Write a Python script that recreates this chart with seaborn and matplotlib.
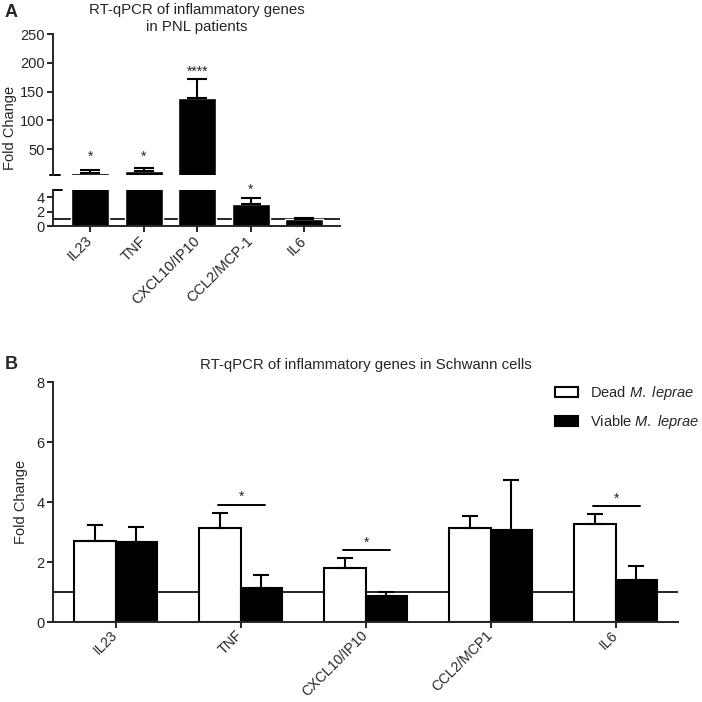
import numpy as np
import pandas as pd
import matplotlib
matplotlib.use('Agg')
import matplotlib.pyplot as plt
import seaborn as sns

# panel A : PNL patients
genes_a = ['IL23', 'TNF', 'CXCL10/IP10', 'CCL2/MCP-1', 'IL6']
fc_a = [8, 12, 138, 3.0, 0.95]
err_a = [5.5, 6, 34, 0.85, 0.2]
sig_a = ['*', '*', '****', '*', '']
star_y_a = [25, 25, 172, 4.0, None]

# panel B : Schwann cells
genes_b = ['IL23', 'TNF', 'CXCL10/IP10', 'CCL2/MCP1', 'IL6']
groups_b = ['Dead', 'Viable']
dead_fc = [2.7, 3.13, 1.8, 3.12, 3.28]
dead_err = [0.53, 0.51, 0.32, 0.4, 0.31]
viable_fc = [2.67, 1.14, 0.88, 3.08, 1.4]
viable_err = [0.49, 0.43, 0.13, 1.66, 0.47]
sig_b = ['', '*', '*', '', '*']

sns.set_style('ticks')
plt.rcParams['font.family'] = ['Liberation Sans', 'DejaVu Sans']
plt.rcParams['mathtext.fontset'] = 'custom'
plt.rcParams['mathtext.it'] = 'Liberation Sans:italic'
plt.rcParams['mathtext.rm'] = 'Liberation Sans'
plt.rcParams['axes.linewidth'] = 1.4
plt.rcParams['font.size'] = 10

fig = plt.figure(figsize=(7.02, 7.02), dpi=100)
W = 702.0

def px_axes(left, top, right, bottom):
    return fig.add_axes([left / W, 1 - bottom / W, (right - left) / W, (bottom - top) / W])

ax_top = px_axes(53, 34, 340, 175)
ax_bot = px_axes(53, 190, 340, 226)
ax_top.set_ylim(5, 250)
ax_bot.set_ylim(0, 5)

df_a = pd.DataFrame({'gene': genes_a, 'fc': fc_a})
for ax in (ax_top, ax_bot):
    sns.barplot(data=df_a, x='gene', y='fc', color='black', saturation=1,
                width=0.71, errorbar=None, ax=ax)
    lo = ax.get_ylim()[0]
    for bar, e in zip(ax.containers[0], err_a):
        if bar.get_height() <= lo:
            bar.set_visible(False)
            continue
        x = bar.get_x() + bar.get_width() / 2
        ax.errorbar(x, bar.get_height(), yerr=[[0], [e]], fmt='none', ecolor='black',
                    elinewidth=1.5, capsize=7, capthick=1.5)
    ax.set_xlim(-0.7, 4.67)
    ax.set_xlabel('')
    ax.set_ylabel('')
    ax.tick_params(direction='out', length=4, width=1.4, pad=2, labelsize=10.5)

ax_top.set_ylim(5, 250)
ax_top.set_yticks([50, 100, 150, 200, 250])
ax_top.spines[['top', 'right', 'bottom']].set_visible(False)
ax_top.tick_params(axis='x', bottom=False, labelbottom=False)
ax_top.plot([-0.012, 0.025], [0, 0], color='black', lw=1.4, transform=ax_top.transAxes, clip_on=False)

ax_bot.set_ylim(0, 5)
ax_bot.set_yticks([0, 2, 4])
ax_bot.spines[['top', 'right']].set_visible(False)
ax_bot.axhline(1, color='black', lw=1.2, zorder=0)
ax_bot.plot([0.0, 0.03], [1, 1], color='black', lw=1.4, transform=ax_bot.transAxes, clip_on=False)
ax_bot.set_xticks(range(len(genes_a)))
ax_bot.set_xticklabels(genes_a, rotation=45, ha='right', va='center', rotation_mode='anchor')
ax_bot.tick_params(axis='x', pad=5)

for i, (s, sy) in enumerate(zip(sig_a, star_y_a)):
    if not s:
        continue
    target = ax_top if sy > 5 else ax_bot
    target.text(i, sy, s, ha='center', va='bottom', fontsize=10, clip_on=False)

ax_top.set_title('RT-qPCR of inflammatory genes\nin PNL patients', fontsize=10.8, pad=0,
                 linespacing=1.3)
fig.text(10 / W, 1 - 128 / W, 'Fold Change', rotation=90, ha='center', va='center', fontsize=10.5)
fig.text(5 / W, 1 - 4 / W, 'A', fontweight='bold', fontsize=13, ha='left', va='top')

# panel B
ax_b = px_axes(53, 382, 678, 622)
df_b = pd.DataFrame({
    'gene': genes_b * 2,
    'group': [groups_b[0]] * len(genes_b) + [groups_b[1]] * len(genes_b),
    'fc': dead_fc + viable_fc,
})
sns.barplot(data=df_b, x='gene', y='fc', hue='group', palette=['white', 'black'],
            saturation=1, edgecolor='black', linewidth=1.5, width=0.67,
            errorbar=None, ax=ax_b)
ax_b.axhline(1, color='black', lw=1.2, zorder=0.5)

for cont, errs in zip(ax_b.containers, [dead_err, viable_err]):
    for bar, e in zip(cont, errs):
        x = bar.get_x() + bar.get_width() / 2
        ax_b.errorbar(x, bar.get_height(), yerr=[[0], [e]], fmt='none', ecolor='black',
                      elinewidth=1.5, capsize=6, capthick=1.5)

for i, s in enumerate(sig_b):
    if not s:
        continue
    b1 = ax_b.containers[0][i]
    b2 = ax_b.containers[1][i]
    x1 = b1.get_x() + b1.get_width() / 2 - 0.01
    x2 = b2.get_x() + b2.get_width() / 2 + 0.03
    y = max(dead_fc[i] + dead_err[i], viable_fc[i] + viable_err[i]) + 0.27
    ax_b.plot([x1, x2], [y, y], color='black', lw=1.4)
    ax_b.text((x1 + x2) / 2, y + 0.02, s, ha='center', va='bottom', fontsize=10)

ax_b.set_xlim(-0.5, 4.5)
ax_b.set_ylim(0, 8)
ax_b.set_yticks([0, 2, 4, 6, 8])
ax_b.spines[['top', 'right']].set_visible(False)
ax_b.tick_params(direction='out', length=4, width=1.4, pad=2, labelsize=10.5)
ax_b.tick_params(axis='x', pad=4, labelsize=10.2)
ax_b.set_xlabel('')
ax_b.set_ylabel('Fold Change', fontsize=10.5, labelpad=6)
ax_b.set_xticks(range(len(genes_b)))
ax_b.set_xticklabels(genes_b, rotation=45, ha='right', va='center', rotation_mode='anchor')
ax_b.set_title('RT-qPCR of inflammatory genes in Schwann cells', fontsize=10.8, pad=9)

handles, _ = ax_b.get_legend_handles_labels()
ax_b.legend(handles, [r'Dead $\it{M.\ leprae}$', r'Viable $\it{M.\ leprae}$'],
            loc='upper left', bbox_to_anchor=(555 / W, 1 - 384 / W), bbox_transform=fig.transFigure,
            frameon=False, fontsize=10.5, handlelength=1.6, handleheight=0.75,
            labelspacing=0.75, handletextpad=0.8, borderpad=0, borderaxespad=0)

fig.text(5 / W, 1 - 356 / W, 'B', fontweight='bold', fontsize=13, ha='left', va='top')

fig.savefig('out.png', dpi=100)
